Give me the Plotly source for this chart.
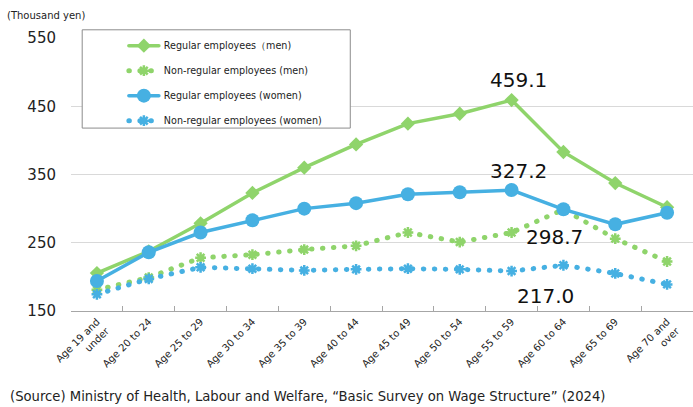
import plotly.graph_objects as go

categories = ["Age 19 and<br>under", "Age 20 to 24", "Age 25 to 29", "Age 30 to 34",
              "Age 35 to 39", "Age 40 to 44", "Age 45 to 49", "Age 50 to 54",
              "Age 55 to 59", "Age 60 to 64", "Age 65 to 69", "Age 70 and<br>over"]
regular_men = [205.5, 237.5, 278.5, 323.0, 360.0, 394.0, 424.5, 439.0, 459.1, 383.0, 337.5, 302.0]
nonregular_men = [181.0, 199.0, 228.0, 232.5, 240.0, 245.5, 265.0, 251.0, 265.0, 298.7, 256.0, 222.5]
regular_women = [194.0, 236.0, 265.0, 283.0, 300.0, 308.0, 321.0, 324.0, 327.2, 299.0, 277.0, 294.0]
nonregular_women = [174.5, 197.0, 214.0, 212.0, 209.5, 211.0, 212.0, 211.0, 208.5, 217.0, 205.0, 189.0]
series_names = ["Regular employees（men)", "Non-regular employees (men)",
                "Regular employees (women)", "Non-regular employees (women)"]
y_ticks = [150, 250, 350, 450, 550]

GREEN = "#8FD46B"
BLUE = "#46B0E2"
FONT = "DejaVu Sans"
DOTS = "0.5px,10.5px"

fig = go.Figure()
fig.add_trace(go.Scatter(x=categories, y=regular_men, name=series_names[0], mode="lines+markers",
                         line=dict(color=GREEN, width=3.5),
                         marker=dict(symbol="diamond", size=11, color=GREEN), legendgroup="a"))
fig.add_trace(go.Scatter(x=categories, y=nonregular_men, name=series_names[1], mode="lines+markers",
                         line=dict(color=GREEN, width=5, dash=DOTS),
                         marker=dict(symbol="asterisk-open", size=9, color=GREEN,
                                     line=dict(color=GREEN, width=2.5)), legendgroup="b"))
fig.add_trace(go.Scatter(x=categories, y=regular_women, name=series_names[2], mode="lines+markers",
                         line=dict(color=BLUE, width=3.5),
                         marker=dict(symbol="circle", size=14, color=BLUE), legendgroup="c"))
fig.add_trace(go.Scatter(x=categories, y=nonregular_women, name=series_names[3], mode="lines+markers",
                         line=dict(color=BLUE, width=5, dash=DOTS),
                         marker=dict(symbol="asterisk-open", size=9, color=BLUE,
                                     line=dict(color=BLUE, width=2.5)), legendgroup="d"))

# data labels
labels = [
    (categories[8], regular_men[8], f"{regular_men[8]:.1f}", 7, 20),
    (categories[8], regular_women[8], f"{regular_women[8]:.1f}", 7, 19),
    (categories[9], nonregular_men[9], f"{nonregular_men[9]:.1f}", -9, -27),
    (categories[9], nonregular_women[9], f"{nonregular_women[9]:.1f}", -18, -31),
]
for x, y, t, xs, ys in labels:
    fig.add_annotation(x=x, y=y, text=t, showarrow=False, xshift=xs, yshift=ys,
                       font=dict(family=FONT, size=20, color="#111111"))

fig.add_annotation(xref="paper", yref="paper", x=-0.106, y=1.084, xanchor="left", yanchor="middle",
                   text="(Thousand yen)", showarrow=False,
                   font=dict(family=FONT, size=10, color="#222222"))
fig.add_annotation(xref="paper", yref="paper", x=-0.101, y=-0.315, xanchor="left", yanchor="middle",
                   text="(Source) Ministry of Health, Labour and Welfare, “Basic Survey on Wage Structure” (2024)",
                   showarrow=False, font=dict(family=FONT, size=13.2, color="#222222"))

# legend frame
fig.add_shape(type="rect", xref="paper", yref="paper", x0=0.018, x1=0.449, y0=0.67, y1=1.03,
              line=dict(color="#8c8c8c", width=1), fillcolor="white", layer="above")

fig.update_layout(
    width=693, height=407,
    margin=dict(l=71, r=0, t=38, b=96),
    paper_bgcolor="white", plot_bgcolor="white",
    font=dict(family=FONT, color="#222222"),
    showlegend=True,
    legend=dict(x=0.085, y=1.025, xanchor="left", yanchor="top",
                borderwidth=0, bgcolor="rgba(0,0,0,0)",
                font=dict(family=FONT, size=9.6, color="#222222"),
                tracegroupgap=6, traceorder="grouped"),
    xaxis=dict(type="category", showgrid=False, showline=True, linecolor="#a6a6a6", linewidth=1,
               ticks="inside", tickson="boundaries", ticklen=5, tickcolor="#a6a6a6",
               tickangle=-45, tickfont=dict(family=FONT, size=10, color="#222222"),
               range=[-0.5, 11.5]),
    yaxis=dict(range=[150, 550], tickvals=y_ticks, showgrid=True, gridcolor="#d9d9d9", gridwidth=1,
               zeroline=False, showline=False, ticks="", ticklabelstandoff=14,
               tickfont=dict(family=FONT, size=15, color="#222222")),
)

post = """
document.body.style.margin='0';
function roundCaps(){
  document.querySelectorAll('path.js-line').forEach(function(p){ p.style.strokeLinecap='round'; });
}
roundCaps();
var gdx = document.getElementById('{plot_id}');
if (gdx && gdx.on) { gdx.on('plotly_afterplot', roundCaps); }
"""
fig.write_html("out.html", config={"displayModeBar": False}, post_script=post)
